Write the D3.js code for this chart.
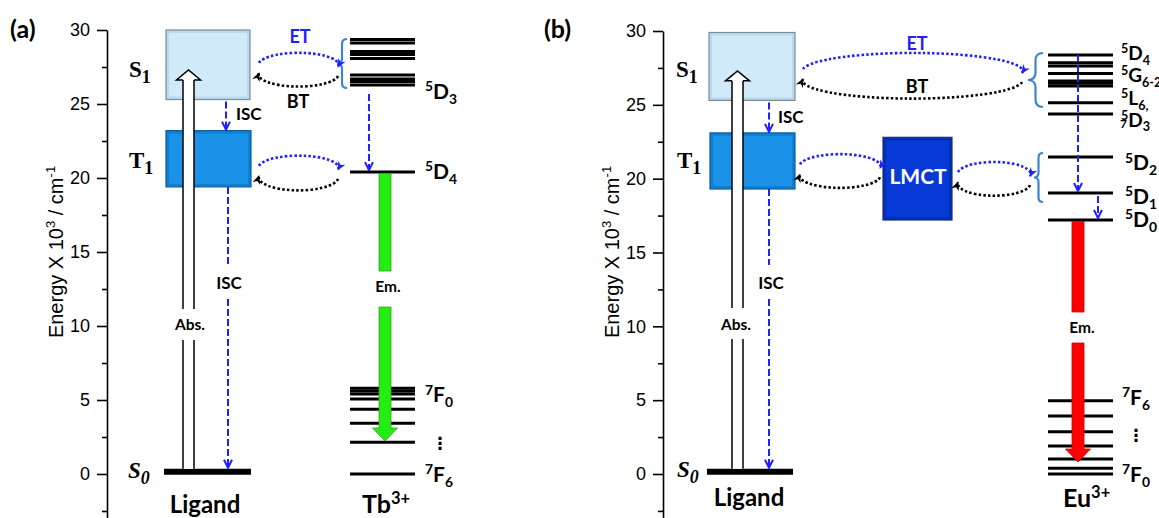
<!DOCTYPE html>
<html><head><meta charset="utf-8">
<script src="https://cdn.jsdelivr.net/npm/d3@7"></script>
<style>body{margin:0;background:#fff}svg{display:block}</style>
</head><body><svg id="c" width="1159" height="518"></svg>
<script>
// ---------------- data (energies in 10^3 cm^-1) ----------------
const energyTicks = [0, 5, 10, 15, 20, 25, 30];
const minorTicks = [-2.5, 2.5, 7.5, 12.5, 17.5, 22.5, 27.5];
const axisDomain = [-3, 30];
const s1RangeA = [25.3, 30.0];
const t1RangeA = [19.4, 23.2];
const s1RangeB = [25.3, 29.9];
const t1RangeB = [19.3, 23.1];
const lmctRange = [17.2, 22.8];
const s0Energy = 0.15;
const absTipEnergy = 27.3;
const tbUpper = [29.36, 29.12, 28.55, 28.34, 28.07, 26.96, 26.69, 26.52, 26.28];
const tb5D4 = 20.4;
const tbLower = [5.79, 5.61, 5.41, 5.07, 4.37, 3.43, 2.14, 0];
const euUpper = [28.37, 27.85, 27.63, 27.13, 26.61, 26.46, 26.27, 25.14, 24.38];
const euD = [21.47, 19.03, 17.2];
const euLower = [4.96, 3.93, 2.86, 1.9, 1.02, 0.39, 0];
const tbLabels = [
  {sup: "5", base: "D", sub: "3", e: 25.34},
  {sup: "5", base: "D", sub: "4", e: 19.93},
  {sup: "7", base: "F", sub: "0", e: 4.86},
  {sup: "7", base: "F", sub: "6", e: -0.54}
];
const euLabels = [
  {sup: "5", base: "D", sub: "4", e: 28.04},
  {sup: "5", base: "G", sub: "6-2", e: 26.55},
  {sup: "5", base: "L", sub: "6,", e: 24.99},
  {sup: "5", base: "D", sub: "3", e: 23.51},
  {sup: "5", base: "D", sub: "2", e: 20.57},
  {sup: "5", base: "D", sub: "1", e: 18.29},
  {sup: "5", base: "D", sub: "0", e: 16.73},
  {sup: "7", base: "F", sub: "6", e: 4.67},
  {sup: "7", base: "F", sub: "0", e: -0.54}
];
const axisTitle = "Energy X 10";

// ---------------- setup ----------------
const svg = d3.select("#c");
const SANS = "Lato, 'Open Sans', sans-serif";
const BLUE = "#1f1fff";
const defs = svg.append("defs");
function mk(id, color, kind) {
  const m = defs.append("marker").attr("id", id).attr("viewBox", "0 0 10 10")
    .attr("refX", 9).attr("refY", 5)
    .attr("markerWidth", kind === "chev" ? 10 : 9).attr("markerHeight", kind === "chev" ? 10 : 9)
    .attr("markerUnits", "userSpaceOnUse").attr("orient", "auto");
  if (kind === "chev") m.append("path").attr("d", "M1,1L9,5L1,9").attr("fill", "none").attr("stroke", color).attr("stroke-width", 2);
  else m.append("path").attr("d", "M0,0.5L10,5L0,9.5L3,5Z").attr("fill", color);
}
mk("chevB", BLUE, "chev");
mk("triB", BLUE, "tri");
mk("triK", "#000", "tri");

function rich(g, x, y, parts, size, attrs, scale) {
  const sc = scale || 0.66;
  const t = g.append("text").attr("x", x).attr("y", y).attr("font-size", size);
  Object.entries(attrs || {}).forEach(([k, v]) => t.attr(k, v));
  let cur = 0;
  parts.forEach(([s, kind]) => {
    const target = kind === "sup" ? -0.36 * size : kind === "sub" ? 0.24 * size : 0;
    const fs = kind === "n" ? size : sc * size;
    t.append("tspan").attr("dy", target - cur).attr("font-size", fs).text(s);
    cur = target;
  });
  return t;
}

function drawAxis(g, y, x) {
  const ax = g.append("g").attr("transform", `translate(${x},0)`);
  ax.call(d3.axisLeft(y).tickValues(energyTicks).tickSize(10).tickPadding(7).tickSizeOuter(0));
  ax.select(".domain").attr("stroke-width", 1.6);
  ax.selectAll(".tick line").attr("stroke-width", 1.6);
  ax.selectAll(".tick text").attr("font-size", 18).attr("font-family", "'Liberation Sans', Arial, sans-serif").attr("fill", "#000");
  const mn = g.append("g").attr("transform", `translate(${x},0)`);
  mn.call(d3.axisLeft(y).tickValues(minorTicks).tickSize(5).tickFormat(""));
  mn.select(".domain").remove();
  mn.selectAll(".tick line").attr("stroke-width", 1.6);
}

function axisLabel(g, xBase, yMid) {
  const t = g.append("text").attr("transform", `translate(${xBase},${yMid}) rotate(-90)`)
    .attr("text-anchor", "middle").attr("font-size", 20).attr("font-family", "'Liberation Sans', Arial, sans-serif");
  t.append("tspan").text(axisTitle);
  t.append("tspan").attr("dy", -8).attr("font-size", 13).text("3");
  t.append("tspan").attr("dy", 8).text(" / cm");
  t.append("tspan").attr("dy", -8).attr("font-size", 13).text("-1");
}

function box(g, x0, x1, range, y, outer, inner, stroke) {
  const top = y(range[1]), bot = y(range[0]);
  g.append("rect").attr("x", x0).attr("y", top).attr("width", x1 - x0).attr("height", bot - top)
    .attr("fill", outer).attr("stroke", stroke).attr("stroke-width", 1.2);
  g.append("rect").attr("x", x0 + 3).attr("y", top + 3).attr("width", x1 - x0 - 6).attr("height", bot - top - 6)
    .attr("fill", inner);
}

function levels(g, data, x0, x1, y, w) {
  g.append("g").selectAll("line").data(data).join("line")
    .attr("x1", x0).attr("x2", x1).attr("y1", d => y(d)).attr("y2", d => y(d))
    .attr("stroke", "#000").attr("stroke-width", w || 3);
}

function hollowArrow(g, cx, yBot, yTip, gapTop, gapBot) {
  const sw = 5.5, hw = 12, hh = 10, base = yTip + hh;
  g.append("rect").attr("x", cx - sw).attr("y", base).attr("width", 2 * sw).attr("height", gapTop - base).attr("fill", "#fff");
  g.append("rect").attr("x", cx - sw).attr("y", gapBot).attr("width", 2 * sw).attr("height", yBot - gapBot).attr("fill", "#fff");
  [[base, gapTop], [gapBot, yBot]].forEach(([a, b]) => {
    [cx - sw, cx + sw].forEach(x => g.append("line").attr("x1", x).attr("x2", x).attr("y1", a).attr("y2", b)
      .attr("stroke", "#000").attr("stroke-width", 1.5));
  });
  g.append("path").attr("d", `M${cx - sw},${base}L${cx - hw},${base}L${cx},${yTip}L${cx + hw},${base}L${cx + sw},${base}`)
    .attr("fill", "#fff").attr("stroke", "#000").attr("stroke-width", 1.5).attr("stroke-linejoin", "miter");
}

function solidArrow(g, cx, yTop, yTip, gapTop, gapBot, fill, stroke) {
  const sw = 6, hw = 12.5, hh = 13, base = yTip - hh;
  g.append("rect").attr("x", cx - sw).attr("y", yTop).attr("width", 2 * sw).attr("height", gapTop - yTop)
    .attr("fill", fill).attr("stroke", stroke).attr("stroke-width", 0.8);
  g.append("path").attr("d", `M${cx - sw},${gapBot}L${cx + sw},${gapBot}L${cx + sw},${base}L${cx + hw},${base}L${cx},${yTip}L${cx - hw},${base}L${cx - sw},${base}Z`)
    .attr("fill", fill).attr("stroke", stroke).attr("stroke-width", 0.8);
}

function dashed(g, x, y1, y2, arrow) {
  const l = g.append("line").attr("x1", x).attr("x2", x).attr("y1", y1).attr("y2", y2)
    .attr("stroke", BLUE).attr("stroke-width", 2).attr("stroke-dasharray", "7,3");
  if (arrow) l.attr("marker-end", "url(#chevB)");
}

function loop(g, xl, xr, yc, ryT, ryB) {
  const rx = (xr - xl) / 2;
  g.append("path").attr("d", `M${xl},${yc - 7}A${rx},${ryT} 0 0 1 ${xr},${yc - 3}`)
    .attr("fill", "none").attr("stroke", BLUE).attr("stroke-width", 2.6).attr("stroke-dasharray", "2.5,2.2")
    .attr("marker-end", "url(#triB)");
  g.append("path").attr("d", `M${xr},${yc + 6}A${rx},${ryB} 0 0 1 ${xl},${yc + 3}`)
    .attr("fill", "none").attr("stroke", "#000").attr("stroke-width", 2.6).attr("stroke-dasharray", "2.5,2.2")
    .attr("marker-end", "url(#triK)");
}

function brace(g, xTip, xRight, yTop, yBot) {
  const xm = (xTip + xRight) / 2, r = xRight - xm, ym = (yTop + yBot) / 2;
  g.append("path").attr("d",
    `M${xRight},${yTop}Q${xm},${yTop} ${xm},${yTop + r}L${xm},${ym - r}Q${xm},${ym} ${xTip},${ym}` +
    `Q${xm},${ym} ${xm},${ym + r}L${xm},${yBot - r}Q${xm},${yBot} ${xRight},${yBot}`)
    .attr("fill", "none").attr("stroke", "#3a86d0").attr("stroke-width", 2.2);
}

function txt(g, x, y, s, size, anchor, fill) {
  return g.append("text").attr("x", x).attr("y", y).attr("font-size", size).attr("font-weight", "bold")
    .attr("font-family", SANS).attr("text-anchor", anchor || "start").attr("fill", fill || "#000").text(s);
}

function stateLabel(g, x, y, letter, sub, italic) {
  rich(g, x, y, [[letter, "n"], [sub, "sub"]], 23, {"font-family": "'Liberation Serif', 'DejaVu Serif', serif",
    "font-weight": "bold", "font-style": italic ? "italic" : "normal"}, 0.78);
}

function levelLabels(g, defsArr, x, y, size) {
  defsArr.forEach(d => rich(g, x, y(d.e), [[d.sup, "sup"], [d.base, "n"], [d.sub, "sub"]], size || 21,
    {"font-family": SANS, "font-weight": "bold"}));
}

function vdots(g, x, yc) {
  g.append("text").attr("x", x).attr("y", yc).attr("text-anchor", "middle").attr("dominant-baseline", "central")
    .attr("font-size", 17).attr("font-weight", "bold").attr("font-family", "'DejaVu Sans', sans-serif").text("\u22EE");
}

// ---------------- panel (a) ----------------
const yA = d3.scaleLinear().domain(axisDomain).range([474 + 3 * 14.8, 30]);
const gA = svg.append("g");
drawAxis(gA, yA, 107);
axisLabel(gA, 63, 252);
txt(gA, 10, 38, "(a)", 25);

box(gA, 166, 250, s1RangeA, yA, "#b9d9ee", "#d0eafa", "#7d8c99");
box(gA, 166, 251, t1RangeA, yA, "#0f7fd2", "#1a92e8", "#0b5c9e");
gA.append("line").attr("x1", 164).attr("x2", 251).attr("y1", yA(s0Energy)).attr("y2", yA(s0Energy))
  .attr("stroke", "#000").attr("stroke-width", 6);
stateLabel(gA, 129, 77, "S", "1");
stateLabel(gA, 129, 168, "T", "1");
stateLabel(gA, 128, 478, "S", "0", true);
hollowArrow(gA, 188.5, yA(s0Energy) - 3, yA(absTipEnergy), 309, 340);
txt(gA, 190, 330, "Abs.", 15.5, "middle");
dashed(gA, 226, yA(s1RangeA[0]) + 2, yA(t1RangeA[1]) - 1, true);
txt(gA, 236, 120, "ISC", 17);
dashed(gA, 228, yA(t1RangeA[0]), 265, false);
dashed(gA, 228, 299, yA(s0Energy) - 4, true);
txt(gA, 229, 289, "ISC", 17, "middle");
txt(gA, 205, 513, "Ligand", 24, "middle");

levels(gA, tbUpper, 350, 415, yA);
levels(gA, [tb5D4], 350, 415, yA);
levels(gA, tbLower, 350, 415, yA);
brace(gA, 337, 347, 39, 88);
loop(gA, 259, 338, yA(27.3), 12, 12);
loop(gA, 259, 338, yA(20.35), 12, 13);
txt(gA, 300, 43, "ET", 18, "middle", BLUE);
txt(gA, 298, 108, "BT", 18, "middle");
dashed(gA, 369, 94, yA(tb5D4) - 2, true);
solidArrow(gA, 385, yA(tb5D4) + 1.5, 441, 271, 307, "#22ee11", "#3a9a2a");
txt(gA, 388, 292, "Em.", 15.5, "middle");
levelLabels(gA, tbLabels, 425, yA);
vdots(gA, 440, 443);
rich(gA, 362, 513, [["Tb", "n"], ["3+", "sup"]], 25, {"font-family": SANS, "font-weight": "bold"});

// ---------------- panel (b) ----------------
const yB = d3.scaleLinear().domain(axisDomain).range([474 + 3 * 14.767, 31]);
const gB = svg.append("g");
drawAxis(gB, yB, 663);
axisLabel(gB, 619, 252);
txt(gB, 544, 38, "(b)", 25);

box(gB, 709, 795, s1RangeB, yB, "#b9d9ee", "#d0eafa", "#7d8c99");
box(gB, 710, 795, t1RangeB, yB, "#0f7fd2", "#1a92e8", "#0b5c9e");
box(gB, 883, 952, lmctRange, yB, "#002fb0", "#0639d6", "#1a2f80");
gB.append("text").attr("x", 918).attr("y", 184).attr("text-anchor", "middle").attr("font-size", 21)
  .attr("font-weight", "bold").attr("font-family", SANS).attr("fill", "#fff").text("LMCT");
gB.append("line").attr("x1", 707).attr("x2", 793).attr("y1", yB(s0Energy)).attr("y2", yB(s0Energy))
  .attr("stroke", "#000").attr("stroke-width", 6);
stateLabel(gB, 676, 77, "S", "1");
stateLabel(gB, 677, 168, "T", "1");
stateLabel(gB, 677, 477, "S", "0", true);
hollowArrow(gB, 737.5, yB(s0Energy) - 3, yB(absTipEnergy), 308, 339);
txt(gB, 736, 330, "Abs.", 15.5, "middle");
dashed(gB, 769, yB(s1RangeB[0]) + 2, yB(t1RangeB[1]) - 1, true);
txt(gB, 778, 123, "ISC", 17);
dashed(gB, 769, yB(t1RangeB[0]), 265, false);
dashed(gB, 769, 299, yB(s0Energy) - 4, true);
txt(gB, 771, 289, "ISC", 17, "middle");
txt(gB, 749, 506, "Ligand", 24, "middle");

levels(gB, euUpper, 1048, 1113, yB);
levels(gB, euD, 1048, 1113, yB);
levels(gB, euLower, 1048, 1113, yB);
brace(gB, 1028, 1043, 53, 107);
brace(gB, 1034, 1043, 153, 202);
loop(gB, 803, 1022, yB(26.95), 18, 18);
loop(gB, 800, 880, yB(20.5), 12, 12);
loop(gB, 958, 1030, yB(19.97), 12, 12);
txt(gB, 917, 50, "ET", 18, "middle", BLUE);
txt(gB, 917, 93, "BT", 18, "middle");
dashed(gB, 1078, yB(euUpper[0]), yB(euD[1]) - 2, true);
dashed(gB, 1098, yB(euD[1]) + 3, yB(euD[2]) - 2, true);
solidArrow(gB, 1078, yB(euD[2]) + 1.5, 462, 312, 343, "#ff0000", "#d00000");
txt(gB, 1082, 333, "Em.", 15.5, "middle");
levelLabels(gB, euLabels.slice(0, 4), 1121, yB, 19);
levelLabels(gB, euLabels.slice(4, 7), 1125, yB);
levelLabels(gB, euLabels.slice(7), 1122, yB);
gB.append("text").attr("x", 1120).attr("y", 128).attr("font-size", 12).attr("font-weight", "bold")
  .attr("font-family", SANS).text("7");
vdots(gB, 1136, 435);
rich(gB, 1063, 507, [["Eu", "n"], ["3+", "sup"]], 25, {"font-family": SANS, "font-weight": "bold"});
</script>
</body></html>
